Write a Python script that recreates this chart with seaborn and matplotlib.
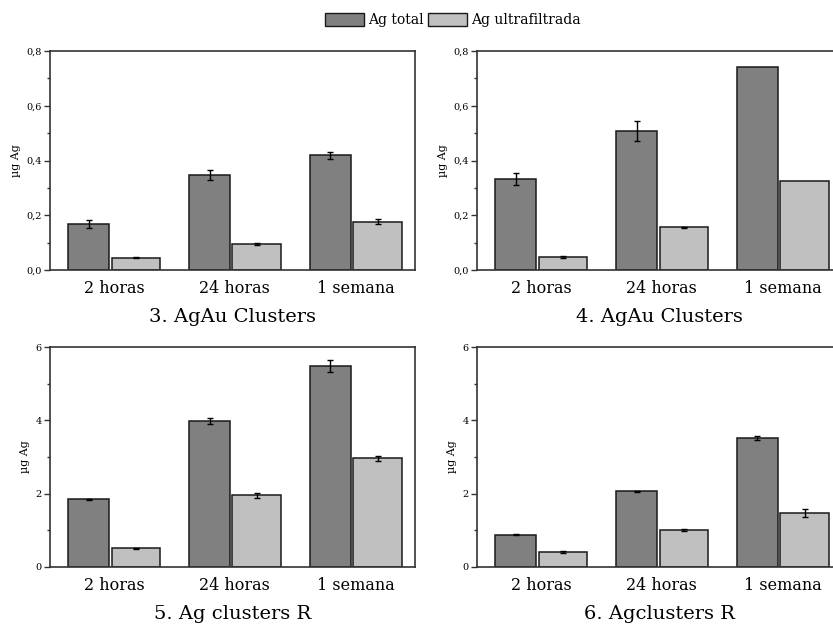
import numpy as np
import pandas as pd
import seaborn as sns
import matplotlib.pyplot as plt
from matplotlib.patches import Patch
from matplotlib.ticker import AutoMinorLocator, FuncFormatter

sns.set_style("white")
plt.rcParams['font.family'] = ['DejaVu Serif']
plt.rcParams['text.color'] = 'black'
plt.rcParams['axes.labelcolor'] = 'black'
plt.rcParams['xtick.color'] = 'black'
plt.rcParams['ytick.color'] = 'black'

times = ["2 horas", "24 horas", "1 semana"]
series = ["Ag total", "Ag ultrafiltrada"]
titles = ["3. AgAu Clusters", "4. AgAu Clusters", "5. Ag clusters R", "6. Agclusters R"]

total_3 = [0.167, 0.347, 0.419]
total_3_err = [0.014, 0.017, 0.012]
ultra_3 = [0.045, 0.096, 0.177]
ultra_3_err = [0.002, 0.003, 0.008]

total_4 = [0.334, 0.507, 0.743]
total_4_err = [0.022, 0.037, 0.0]
ultra_4 = [0.047, 0.156, 0.326]
ultra_4_err = [0.003, 0.002, 0.0]

total_5 = [1.845, 3.99, 5.48]
total_5_err = [0.02, 0.077, 0.16]
ultra_5 = [0.51, 1.955, 2.97]
ultra_5_err = [0.01, 0.07, 0.07]

total_6 = [0.88, 2.06, 3.52]
total_6_err = [0.02, 0.01, 0.06]
ultra_6 = [0.41, 1.01, 1.47]
ultra_6_err = [0.02, 0.02, 0.10]

ylims = [0.8, 0.8, 6, 6]
yticks = [[0, 0.2, 0.4, 0.6, 0.8], [0, 0.2, 0.4, 0.6, 0.8], [0, 2, 4, 6], [0, 2, 4, 6]]

panels = [
    (total_3, total_3_err, ultra_3, ultra_3_err),
    (total_4, total_4_err, ultra_4, ultra_4_err),
    (total_5, total_5_err, ultra_5, ultra_5_err),
    (total_6, total_6_err, ultra_6, ultra_6_err),
]

DARK = "#808080"
LIGHT = "#c0c0c0"
W, H = 833, 628

fig = plt.figure(figsize=(W / 100, H / 100), dpi=100)

# axes boxes in pixels: left, top, right, bottom
boxes = [(50, 51, 415, 270), (477, 51, 842, 270), (50, 347, 415, 567), (477, 347, 842, 567)]

for i, (box, (tot, tot_err, ult, ult_err)) in enumerate(zip(boxes, panels)):
    l, t, r, b = box
    ax = fig.add_axes([l / W, 1 - b / H, (r - l) / W, (b - t) / H])
    df = pd.DataFrame({
        'tiempo': times * 2,
        'serie': [series[0]] * 3 + [series[1]] * 3,
        'valor': tot + ult,
    })
    sns.barplot(data=df, x='tiempo', y='valor', hue='serie', palette=[DARK, LIGHT],
                edgecolor="#1a1a1a", linewidth=1.1, errorbar=None, legend=False, ax=ax)
    # uneven widths like the original
    bars = ax.patches
    for k in range(3):
        bars[k].set_x(k - 0.38)
        bars[k].set_width(0.34)
        bars[k + 3].set_x(k - 0.02)
        bars[k + 3].set_width(0.40)
    xs = np.arange(3)
    for centers, vals, errs in [(xs - 0.21, tot, tot_err), (xs + 0.18, ult, ult_err)]:
        for c, v, e in zip(centers, vals, errs):
            if e > 0:
                ax.errorbar(c, v, yerr=e, fmt='none', ecolor='black', elinewidth=1,
                            capsize=2.5, capthick=1)
    ax.set_xlim(-0.53, 2.49)
    ax.set_ylim(0, ylims[i])
    ax.set_yticks(yticks[i])
    ax.yaxis.set_minor_locator(AutoMinorLocator(2))
    if ylims[i] < 1:
        ax.yaxis.set_major_formatter(FuncFormatter(lambda v, p: f"{v:.1f}".replace('.', ',')))
    else:
        ax.yaxis.set_major_formatter(FuncFormatter(lambda v, p: f"{v:g}"))
    ax.tick_params(axis='y', which='major', direction='out', length=4, width=1,
                   labelsize=7, left=True, color="#333333", pad=2)
    ax.tick_params(axis='y', which='minor', direction='out', length=2.5, width=1,
                   left=True, color="#333333")
    ax.tick_params(axis='x', length=0, labelsize=11.5, pad=7)
    ax.set_xlabel(titles[i], fontsize=14, labelpad=8)
    ax.set_ylabel("µg Ag", fontsize=8, labelpad=4)
    for s in ax.spines.values():
        s.set_color("#333333")
        s.set_linewidth(1.2)
    ax.set_facecolor("white")

handles = [Patch(facecolor=DARK, edgecolor="#1a1a1a", label=series[0]),
           Patch(facecolor=LIGHT, edgecolor="#1a1a1a", label=series[1])]
fig.legend(handles=handles, loc='center', bbox_to_anchor=(453 / W, 1 - 20 / H), ncol=2,
           frameon=False, fontsize=10, handlelength=2.8, handleheight=1.1,
           columnspacing=0.3, handletextpad=0.3)

fig.savefig("out.png", dpi=100)
